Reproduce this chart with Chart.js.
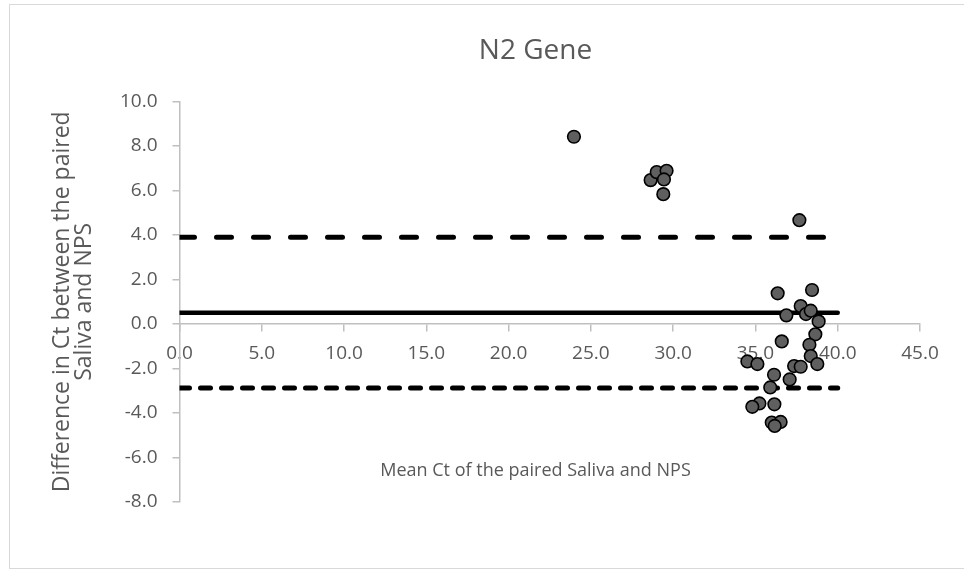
<!DOCTYPE html>
<html>
<head>
<meta charset="utf-8">
<script src="https://cdn.jsdelivr.net/npm/chart.js@4.4.1/dist/chart.umd.min.js"></script>
<style>
    html, body { margin: 0; padding: 0; background: #ffffff; overflow: hidden; }
    #frame {
        position: absolute; left: 9px; top: 4px;
        width: 1051px; height: 563px;
        border-left: 1px solid #d9d9d9;
        border-top: 1px solid #d9d9d9;
        border-bottom: 1px solid #d9d9d9;
    }
</style>
</head>
<body>
<div id="frame"><canvas id="n2_chart" width="1051" height="563"></canvas></div>
<script>
// Bland-Altman data - N2 gene
const mean_ct = [23.97, 28.63, 29.00, 29.60, 29.44, 29.40, 37.67, 36.35, 38.44, 37.75,
                 36.88, 38.07, 38.36, 38.84, 38.64, 36.60, 38.28, 34.51, 35.12, 38.36,
                 38.76, 37.35, 37.75, 36.13, 37.08, 35.90, 35.24, 34.81, 36.15, 35.99,
                 36.53, 36.17];
const diff_ct = [8.42, 6.47, 6.83, 6.89, 6.50, 5.84, 4.67, 1.38, 1.53, 0.81,
                 0.39, 0.45, 0.60, 0.12, -0.46, -0.78, -0.93, -1.68, -1.80, -1.44,
                 -1.80, -1.89, -1.92, -2.28, -2.49, -2.85, -3.57, -3.72, -3.61, -4.43,
                 -4.40, -4.58];

// mean difference and limits of agreement, drawn from x = 0 to x = 40
const line_x = [0, 40];
const mean_diff = 0.51;
const upper_loa = 3.90;
const lower_loa = -2.88;

const x_ticks = [0, 5, 10, 15, 20, 25, 30, 35, 40, 45];
const y_ticks = [-8, -6, -4, -2, 0, 2, 4, 6, 8, 10];

const chart_title = 'N2 Gene';
const x_title = 'Mean Ct of the paired Saliva and NPS';
const y_title = ['Difference in Ct between the paired', 'Saliva and NPS'];

const txt_color = '#595959';
const font_name = "'Open Sans', sans-serif";

function to_points(xs, ys)
{
    let pts = [];
    let i = 0;
    while (i < xs.length) {
        pts.push({x: xs[i], y: ys[i]});
        i++;
    }
    return pts;
}

function flat_line(y)
{
    return to_points(line_x, [y, y]);
}

// x axis title sits inside the plot, below the x tick labels
const x_title_plugin = {
    id: 'x_title_plugin',
    afterDraw(chart) {
        const ctx = chart.ctx;
        ctx.save();
        ctx.font = '18px ' + font_name;
        ctx.fillStyle = txt_color;
        ctx.textAlign = 'center';
        ctx.textBaseline = 'middle';
        ctx.fillText(x_title, chart.width / 2, 466);
        ctx.restore();
    }
};

var n2chart = document.getElementById('n2_chart');
var myChart_n2 = new Chart(n2chart, {
    type: 'scatter',
    data: {
        datasets: [{
            label: 'N2',
            data: to_points(mean_ct, diff_ct),
            backgroundColor: '#5f5f5f',
            borderColor: '#000000',
            borderWidth: 1.6,
            pointRadius: 6.3,
            pointHoverRadius: 6.3,
        }, {
            type: 'line',
            label: 'Mean',
            data: flat_line(mean_diff),
            borderColor: '#000000',
            borderWidth: 4.5,
            borderCapStyle: 'round',
            pointRadius: 0,
            fill: false,
        }, {
            type: 'line',
            label: 'Upper',
            data: flat_line(upper_loa),
            borderColor: '#000000',
            borderWidth: 5,
            borderCapStyle: 'round',
            borderDash: [15, 22],
            pointRadius: 0,
            fill: false,
        }, {
            type: 'line',
            label: 'Lower',
            data: flat_line(lower_loa),
            borderColor: '#000000',
            borderWidth: 5,
            borderCapStyle: 'round',
            borderDash: [10, 11],
            pointRadius: 0,
            fill: false,
        }]
    },
    options: {
        responsive: false,
        animation: false,
        layout: {
            padding: {left: 0, right: 0, top: 0, bottom: 66},
        },
        plugins: {
            legend: { display: false },
            tooltip: { enabled: false },
            title: {
                display: true,
                text: chart_title,
                color: txt_color,
                font: { family: font_name, size: 28, weight: 'normal' },
                padding: { top: 29, bottom: 34 },
            },
        },
        scales: {
            x: {
                type: 'linear',
                position: { y: 0 },
                min: 0,
                max: 45,
                afterBuildTicks: function (axis) {
                    axis.ticks = x_ticks.map(v => ({value: v}));
                },
                ticks: {
                    color: txt_color,
                    font: { family: font_name, size: 19 },
                    padding: 11,
                    maxRotation: 0,
                    callback: v => v.toFixed(1),
                },
                grid: {
                    drawOnChartArea: false,
                    color: '#bfbfbf',
                    lineWidth: 1.5,
                    tickLength: 7,
                },
                border: { color: '#bfbfbf', width: 1.5 },
            },
            y: {
                type: 'linear',
                min: -8,
                max: 10,
                afterBuildTicks: function (axis) {
                    axis.ticks = y_ticks.map(v => ({value: v}));
                },
                afterFit: function (axis) {
                    axis.width = 169.5;
                },
                ticks: {
                    color: txt_color,
                    font: { family: font_name, size: 19 },
                    padding: 15,
                    callback: v => v.toFixed(1),
                },
                grid: {
                    drawOnChartArea: false,
                    color: '#bfbfbf',
                    lineWidth: 1.5,
                    tickLength: 7,
                },
                border: { color: '#bfbfbf', width: 1.5 },
                title: {
                    display: true,
                    text: y_title,
                    color: txt_color,
                    font: { family: font_name, size: 23, lineHeight: 0.96 },
                    padding: { top: 41, bottom: 0 },
                },
            },
            // empty space to the right of the plot (chart is wider than the window)
            y_right: {
                type: 'linear',
                position: 'right',
                afterFit: function (axis) {
                    axis.width = 141;
                },
                ticks: { display: false },
                grid: { display: false },
                border: { display: false },
            },
        },
    },
    plugins: [x_title_plugin],
});
</script>
</body>
</html>
